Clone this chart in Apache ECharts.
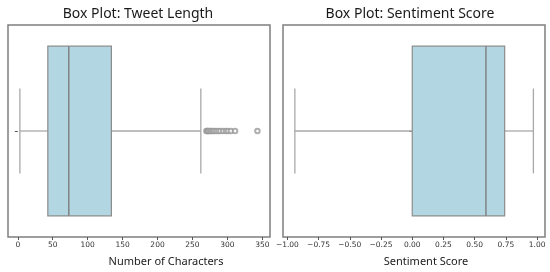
<!DOCTYPE html>
<html>
<head>
<meta charset="utf-8">
<script src="https://cdn.jsdelivr.net/npm/echarts@6/dist/echarts.min.js"></script>
<style>
  html, body { margin: 0; padding: 0; background: #fff; }
  #chart { width: 550px; height: 272px; }
</style>
</head>
<body>
<div id="chart"></div>
<script>
// five-number summaries: min whisker, Q1, median, Q3, max whisker
const tweetStats = [3, 43, 73, 134, 262];
const tweetOutliers = [270, 271, 272, 273, 275, 277, 279, 281, 284, 287, 290, 294, 298, 301, 305, 311, 343];
const sentimentStats = [-0.94, 0.0, 0.59, 0.74, 0.97];

const tweetTicks = [0, 50, 100, 150, 200, 250, 300, 350];
const sentimentTicks = [-1, -0.75, -0.5, -0.25, 0, 0.25, 0.5, 0.75, 1];

const whiskerColor = '#a9a9a9';
const edgeColor = '#8c8c8c';
const boxFill = '#b2d6e2';
const font = 'Noto Sans';

// horizontal box with half-width caps (seaborn style)
function renderBox(params, api) {
  const yc = api.coord([0, 0])[1];
  const band = api.size([0, 1])[1];
  const half = band * 0.4;
  const capHalf = band * 0.2;
  const x = [0, 1, 2, 3, 4].map((i) => api.coord([api.value(i), 0])[0]);
  const line = { stroke: whiskerColor, lineWidth: 1.3 };
  return {
    type: 'group',
    children: [
      { type: 'line', shape: { x1: x[0], y1: yc, x2: x[1], y2: yc }, style: line },
      { type: 'line', shape: { x1: x[3], y1: yc, x2: x[4], y2: yc }, style: line },
      { type: 'line', shape: { x1: x[0], y1: yc - capHalf, x2: x[0], y2: yc + capHalf }, style: line },
      { type: 'line', shape: { x1: x[4], y1: yc - capHalf, x2: x[4], y2: yc + capHalf }, style: line },
      {
        type: 'rect',
        shape: { x: x[1], y: yc - half, width: x[3] - x[1], height: half * 2 },
        style: { fill: boxFill, stroke: edgeColor, lineWidth: 1.2 },
      },
      { type: 'line', shape: { x1: x[2], y1: yc - half, x2: x[2], y2: yc + half }, style: { stroke: '#7d7d7d', lineWidth: 1.4 } },
    ],
  };
}

function xAxisFor(gridIndex, min, max, ticks, fmt) {
  return {
    type: 'value',
    gridIndex: gridIndex,
    min: min,
    max: max,
    splitLine: { show: false },
    axisLine: { show: false },
    axisTick: { show: true, customValues: ticks, length: 3, lineStyle: { color: '#555' } },
    axisLabel: {
      customValues: ticks,
      formatter: fmt,
      fontSize: 7.5,
      color: '#333',
      margin: 4,
      fontFamily: 'DejaVu Sans',
    },
  };
}

function yAxisFor(gridIndex) {
  return {
    type: 'category',
    gridIndex: gridIndex,
    data: [''],
    axisLine: { show: false },
    axisTick: { show: true, alignWithLabel: true, length: 3, lineStyle: { color: '#555' } },
    axisLabel: { show: false },
  };
}

const chart = echarts.init(document.getElementById('chart'), null, { renderer: 'canvas' });

chart.setOption({
  animation: false,
  backgroundColor: '#fff',
  title: [
    { text: 'Box Plot: Tweet Length', left: 133, top: 2, textAlign: 'center',
      textStyle: { fontFamily: font, fontSize: 14, fontWeight: 'normal', color: '#1a1a1a' } },
    { text: 'Box Plot: Sentiment Score', left: 405, top: 2, textAlign: 'center',
      textStyle: { fontFamily: font, fontSize: 14, fontWeight: 'normal', color: '#1a1a1a' } },
  ],
  grid: [
    { left: 8, top: 25, width: 262, height: 212, show: true, borderColor: '#7f7f7f', borderWidth: 1.5, backgroundColor: '#fff' },
    { left: 283, top: 25, width: 262, height: 212, show: true, borderColor: '#7f7f7f', borderWidth: 1.5, backgroundColor: '#fff' },
  ],
  xAxis: [
    xAxisFor(0, -14, 361, tweetTicks, (v) => String(v)),
    xAxisFor(1, -1.035, 1.063, sentimentTicks, (v) => (v < 0 ? '\u2212' + Math.abs(v).toFixed(2) : v.toFixed(2))),
  ],
  yAxis: [yAxisFor(0), yAxisFor(1)],
  graphic: [
    { type: 'text', x: 166, y: 262, style: { text: 'Number of Characters', fontFamily: font, fontSize: 11, fill: '#1a1a1a', align: 'center', verticalAlign: 'middle' } },
    { type: 'text', x: 426, y: 262, style: { text: 'Sentiment Score', fontFamily: font, fontSize: 11, fill: '#1a1a1a', align: 'center', verticalAlign: 'middle' } },
  ],
  series: [
    {
      type: 'custom',
      xAxisIndex: 0,
      yAxisIndex: 0,
      renderItem: renderBox,
      encode: { x: [0, 1, 2, 3, 4], y: 5 },
      data: [tweetStats.concat([0])],
    },
    {
      type: 'scatter',
      xAxisIndex: 0,
      yAxisIndex: 0,
      symbol: 'emptyCircle',
      symbolSize: 4.5,
      itemStyle: { color: '#9a9a9a', borderWidth: 0.6 },
      data: tweetOutliers.map((v) => [v, 0]),
    },
    {
      type: 'custom',
      xAxisIndex: 1,
      yAxisIndex: 1,
      renderItem: renderBox,
      encode: { x: [0, 1, 2, 3, 4], y: 5 },
      data: [sentimentStats.concat([0])],
    },
  ],
});
</script>
</body>
</html>
